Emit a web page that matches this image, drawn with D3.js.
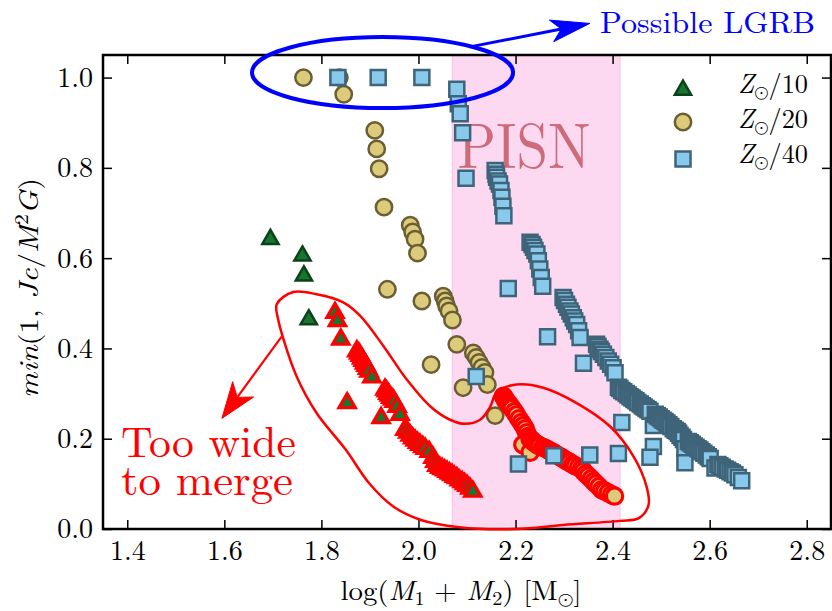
<!DOCTYPE html>
<html><head><meta charset="utf-8">
<script src="https://cdn.jsdelivr.net/npm/d3@7"></script>
<style>body{margin:0;background:#fff}svg{display:block}text{font-family:"Latin Modern Roman","Latin Modern Math","DejaVu Serif",serif}</style>
</head><body>
<script>
// ---------- data ----------
const xTicks = [1.4,1.6,1.8,2.0,2.2,2.4,2.6,2.8];
const xTickLabels = ["1.4","1.6","1.8","2.0","2.2","2.4","2.6","2.8"];
const yTicks = [0.0,0.2,0.4,0.6,0.8,1.0];
const yTickLabels = ["0.0","0.2","0.4","0.6","0.8","1.0"];
const pisnRange = [2.07, 2.415];

// Z_sun/10 (triangles)
const triZ10 = [[1.695,0.642],[1.761,0.605],[1.764,0.561],[1.774,0.464]];
const triZ10Wide = [
 [1.828,0.479],[1.833,0.461],[1.840,0.420],
 [1.873,0.394],[1.877,0.389],[1.880,0.384],[1.883,0.378],[1.886,0.373],[1.889,0.367],[1.892,0.362],[1.895,0.355],[1.898,0.349],[1.904,0.336],
 [1.853,0.279],[1.923,0.246],
 [1.931,0.309],[1.934,0.305],[1.937,0.300],[1.940,0.296],[1.943,0.291],[1.947,0.287],[1.950,0.282],[1.956,0.271],[1.962,0.253],
 [1.972,0.220],[1.978,0.214],[1.983,0.207],[1.988,0.201],[1.993,0.196],[1.998,0.191],[2.003,0.187],[2.009,0.182],[2.014,0.178],[2.022,0.171],
 [2.030,0.158],[2.034,0.149],[2.038,0.140],[2.044,0.136],[2.049,0.133],[2.054,0.130],[2.059,0.127],[2.064,0.123],[2.069,0.120],[2.074,0.116],[2.079,0.113],
 [2.084,0.108],[2.090,0.104],[2.095,0.100],[2.100,0.096],[2.106,0.090],[2.112,0.083]];
// Z_sun/20 (circles)
const circZ20 = [
 [1.763,1.000],[1.837,1.000],[1.846,0.963],[1.910,0.883],[1.914,0.842],[1.919,0.798],
 [1.929,0.713],[1.983,0.673],[1.988,0.658],[1.993,0.642],[1.998,0.611],[1.936,0.531],
 [2.007,0.505],[2.051,0.516],[2.055,0.505],[2.058,0.494],[2.063,0.483],[2.070,0.463],
 [2.079,0.409],[2.026,0.364],[2.113,0.390],[2.119,0.380],[2.125,0.369],[2.131,0.358],
 [2.137,0.347],[2.142,0.320],[2.092,0.313],[2.158,0.251]];
const circZ20Wide = [
 [2.175,0.294],[2.178,0.289],[2.180,0.284],[2.184,0.280],[2.187,0.276],[2.190,0.271],[2.193,0.267],[2.198,0.260],[2.202,0.253],[2.207,0.244],
 [2.212,0.236],[2.216,0.229],[2.220,0.222],[2.223,0.213],[2.226,0.205],[2.215,0.187],[2.230,0.170],[2.230,0.200],[2.234,0.196],
 [2.238,0.192],[2.242,0.189],[2.246,0.186],[2.250,0.184],[2.256,0.181],[2.261,0.179],[2.266,0.176],[2.271,0.173],[2.276,0.170],[2.281,0.167],[2.287,0.163],[2.292,0.160],
 [2.297,0.157],[2.302,0.153],[2.307,0.150],[2.312,0.147],[2.318,0.143],[2.323,0.140],[2.330,0.137],[2.336,0.133],[2.340,0.128],[2.345,0.122],[2.350,0.117],[2.356,0.111],
 [2.361,0.105],[2.366,0.100],[2.372,0.094],[2.378,0.087],[2.384,0.084],[2.391,0.080],[2.398,0.076],[2.404,0.073]];
// Z_sun/40 (squares)
const sqZ40 = [
 [1.834,1.000],[1.917,1.000],[2.007,1.000],
 [2.079,0.974],[2.082,0.942],[2.086,0.920],[2.091,0.878],[2.098,0.777],
 [2.158,0.794],[2.160,0.786],[2.161,0.779],[2.164,0.771],[2.167,0.764],[2.170,0.750],[2.172,0.735],[2.174,0.715],[2.176,0.694],
 [2.230,0.635],[2.234,0.630],[2.237,0.624],[2.240,0.617],[2.244,0.609],[2.247,0.594],[2.250,0.576],[2.253,0.557],[2.256,0.538],
 [2.185,0.533],
 [2.298,0.513],[2.301,0.506],[2.305,0.498],[2.308,0.491],[2.312,0.483],[2.315,0.476],[2.319,0.468],[2.322,0.461],[2.326,0.453],[2.330,0.439],[2.333,0.424],
 [2.266,0.426],[2.340,0.367],[2.119,0.338],
 [2.367,0.409],[2.370,0.404],[2.374,0.398],[2.377,0.393],[2.381,0.387],[2.386,0.380],[2.391,0.372],[2.396,0.365],[2.401,0.357],[2.405,0.346],[2.412,0.314],
 [2.415,0.311],[2.419,0.307],[2.423,0.304],[2.428,0.300],[2.432,0.297],[2.436,0.293],[2.440,0.290],[2.444,0.287],[2.448,0.284],[2.452,0.280],[2.457,0.277],[2.461,0.273],[2.465,0.270],[2.469,0.267],[2.473,0.264],[2.477,0.261],
 [2.419,0.236],[2.484,0.229],
 [2.488,0.254],[2.492,0.251],[2.496,0.248],[2.500,0.244],[2.504,0.241],[2.508,0.238],[2.512,0.235],[2.516,0.231],[2.520,0.227],[2.525,0.222],[2.529,0.219],[2.533,0.216],[2.536,0.212],[2.539,0.207],[2.543,0.203],[2.546,0.198],
 [2.484,0.183],[2.477,0.159],[2.549,0.178],[2.549,0.147],
 [2.556,0.194],[2.560,0.191],[2.564,0.188],[2.568,0.184],[2.572,0.181],[2.576,0.178],[2.580,0.175],[2.584,0.171],[2.588,0.168],[2.593,0.164],[2.597,0.160],[2.601,0.156],[2.611,0.135],
 [2.617,0.143],[2.621,0.140],[2.626,0.137],[2.632,0.133],[2.637,0.130],[2.642,0.127],[2.647,0.124],[2.652,0.120],[2.659,0.114],[2.666,0.107],
 [2.206,0.144],[2.279,0.162],[2.353,0.164],[2.412,0.167]];

// annotation geometry (data units)
const lgrbEllipse = {cx:1.926, cy:1.011, rx:0.269, ry:0.0786};
const lgrbArrow = [[2.106,1.068],[2.353,1.120]];
const wideArrow = [[1.718,0.426],[1.595,0.245]];
const wideLoop = [
 [1.708,0.498],[1.742,0.525],[1.790,0.520],[1.845,0.502],[1.880,0.472],[1.928,0.405],
 [1.976,0.331],[2.024,0.272],[2.065,0.242],[2.096,0.233],[2.127,0.242],[2.147,0.269],
 [2.162,0.304],[2.202,0.320],[2.257,0.313],[2.326,0.279],[2.395,0.227],[2.443,0.161],
 [2.470,0.094],[2.474,0.053],[2.454,0.024],[2.415,0.018],[2.298,0.009],[2.201,0.000],
 [2.084,0.004],[2.005,0.020],[1.948,0.050],[1.898,0.102],[1.850,0.176],[1.790,0.257],
 [1.749,0.338],[1.722,0.420],[1.711,0.464]];

// ---------- drawing ----------
const FONT = '"Latin Modern Roman","Latin Modern Math","DejaVu Serif",serif';
const W = 832, H = 611;
const L = 103, R = 831, T = 55, B = 529;
const svg = d3.select("body").append("svg").attr("width", W).attr("height", H);
const x = d3.scaleLinear().domain([1.35, 2.85]).range([L, R]);
const y = d3.scaleLinear().domain([0, 1.05]).range([B, T]);

const triFill = "#17752f", triStroke = "#0b4219";
const cFill = "#dccb7a", cStroke = "#6b5e34";
const sFill = "#88c9ec", sStroke = "#3f6479";

// PISN band
svg.append("rect").attr("x", x(pisnRange[0])).attr("y", T)
  .attr("width", x(pisnRange[1]) - x(pisnRange[0])).attr("height", B - T)
  .attr("fill", "#fdd9f1").attr("stroke", "#fbc8ea").attr("stroke-width", 1.5);
svg.append("text").attr("x", x(pisnRange[0]) + 5).attr("y", 168)
  .attr("font-size", 64).attr("fill", "#cd6b7b").attr("textLength", 133)
  .attr("lengthAdjust", "spacingAndGlyphs").text("PISN");

const triSym = d3.symbol().type(d3.symbolTriangle).size(115);
const cirSym = d3.symbol().type(d3.symbolCircle).size(210);
const sqSym = d3.symbol().type(d3.symbolSquare).size(225);

const gm = svg.append("g");
function pts(data, sym, fill, stroke, sw) {
  gm.append("g").selectAll("path").data(data).join("path")
    .attr("transform", d => `translate(${x(d[0])},${y(d[1])})`)
    .attr("d", sym).attr("fill", fill).attr("stroke", stroke)
    .attr("stroke-width", sw).attr("stroke-linejoin", "miter");
}
pts(triZ10, triSym, triFill, triStroke, 2.5);
pts(triZ10Wide, triSym, triFill, "#ff0000", 3.2);
pts(circZ20, cirSym, cFill, cStroke, 2.5);
pts(circZ20Wide, cirSym, cFill, "#ff0000", 3.2);
pts(sqZ40, sqSym, sFill, sStroke, 2.5);

// axes (ticks inward on all four sides)
const fmtX = (d, i) => xTickLabels[i];
const fmtY = (d, i) => yTickLabels[i];
const axB = svg.append("g").attr("transform", `translate(0,${B})`)
  .call(d3.axisBottom(x).tickValues(xTicks).tickFormat(fmtX).tickSizeInner(-9).tickSizeOuter(0).tickPadding(11));
const axT = svg.append("g").attr("transform", `translate(0,${T})`)
  .call(d3.axisTop(x).tickValues(xTicks).tickFormat("").tickSizeInner(-9).tickSizeOuter(0));
const axL = svg.append("g").attr("transform", `translate(${L},0)`)
  .call(d3.axisLeft(y).tickValues(yTicks).tickFormat(fmtY).tickSizeInner(-9).tickSizeOuter(0).tickPadding(10));
const axRt = svg.append("g").attr("transform", `translate(${R},0)`)
  .call(d3.axisRight(y).tickValues(yTicks).tickFormat("").tickSizeInner(-9).tickSizeOuter(0));
[axB, axT, axL, axRt].forEach(a => {
  a.attr("font-family", FONT);
  a.select(".domain").remove();
  a.selectAll(".tick line").attr("stroke", "#000").attr("stroke-width", 1.5);
  a.selectAll("text").attr("font-size", 28).attr("fill", "#000");
});
svg.append("rect").attr("x", L).attr("y", T).attr("width", R - L).attr("height", B - T)
  .attr("fill", "none").attr("stroke", "#000").attr("stroke-width", 2.5);

// axis titles
const xl = svg.append("text").attr("x", 461).attr("y", 600).attr("text-anchor", "middle")
  .attr("font-size", 27).attr("textLength", 241).attr("lengthAdjust", "spacingAndGlyphs");
xl.append("tspan").text("log(");
xl.append("tspan").attr("font-style", "italic").text("M");
xl.append("tspan").attr("font-size", 19).attr("dy", 5).text("1");
xl.append("tspan").attr("dy", -5).text(" + ");
xl.append("tspan").attr("font-style", "italic").text("M");
xl.append("tspan").attr("font-size", 19).attr("dy", 5).text("2");
xl.append("tspan").attr("dy", -5).text(") [M");
xl.append("tspan").attr("font-size", 19).attr("dy", 5).text("⊙");
xl.append("tspan").attr("dy", -5).text("]");

const yl = svg.append("text").attr("transform", "translate(38,288) rotate(-90)")
  .attr("text-anchor", "middle").attr("font-size", 27)
  .attr("textLength", 220).attr("lengthAdjust", "spacingAndGlyphs");
yl.append("tspan").attr("font-style", "italic").text("min");
yl.append("tspan").text("(1, ");
yl.append("tspan").attr("font-style", "italic").text("Jc");
yl.append("tspan").text("/");
yl.append("tspan").attr("font-style", "italic").text("M");
yl.append("tspan").attr("font-size", 19).attr("dy", -10).text("2");
yl.append("tspan").attr("dy", 10).attr("font-style", "italic").text("G");
yl.append("tspan").text(")");

// legend
const legend = [
  {sym: triSym, fill: triFill, stroke: triStroke, lab: "/10", cy: 90, ty: 93},
  {sym: cirSym, fill: cFill, stroke: cStroke, lab: "/20", cy: 122, ty: 128},
  {sym: sqSym, fill: sFill, stroke: sStroke, lab: "/40", cy: 159, ty: 163}];
legend.forEach(l => {
  svg.append("path").attr("transform", `translate(683,${l.cy})`).attr("d", l.sym)
    .attr("fill", l.fill).attr("stroke", l.stroke).attr("stroke-width", 2.5);
  const t = svg.append("text").attr("x", 738).attr("y", l.ty).attr("font-size", 27)
    .attr("textLength", 70).attr("lengthAdjust", "spacingAndGlyphs");
  t.append("tspan").attr("font-style", "italic").text("Z");
  t.append("tspan").attr("font-size", 19).attr("dy", 5).text("⊙");
  t.append("tspan").attr("dy", -5).text(l.lab);
});

// annotations
function arrow(p0, p1, color, lw, hl, hw, notch) {
  const x0 = x(p0[0]), y0 = y(p0[1]), x1 = x(p1[0]), y1 = y(p1[1]);
  const len = Math.hypot(x1 - x0, y1 - y0), ux = (x1 - x0) / len, uy = (y1 - y0) / len;
  const px = -uy, py = ux;
  const bx = x1 - ux * hl, by = y1 - uy * hl;
  const nx = x1 - ux * notch, ny = y1 - uy * notch;
  svg.append("line").attr("x1", x0).attr("y1", y0).attr("x2", nx).attr("y2", ny)
    .attr("stroke", color).attr("stroke-width", lw);
  svg.append("path").attr("d", d3.line()([[x1, y1], [bx + px * hw, by + py * hw], [nx, ny], [bx - px * hw, by - py * hw]]) + "Z")
    .attr("fill", color).attr("stroke", color).attr("stroke-width", 1);
}
svg.append("ellipse").attr("cx", x(lgrbEllipse.cx)).attr("cy", y(lgrbEllipse.cy))
  .attr("rx", x(lgrbEllipse.cx + lgrbEllipse.rx) - x(lgrbEllipse.cx))
  .attr("ry", y(lgrbEllipse.cy - lgrbEllipse.ry) - y(lgrbEllipse.cy))
  .attr("fill", "none").attr("stroke", "#0000ff").attr("stroke-width", 4);
arrow(lgrbArrow[0], lgrbArrow[1], "#0000ff", 3, 39, 11, 29);
svg.append("text").attr("x", 600).attr("y", 33).attr("font-size", 30).attr("fill", "#0000ff")
  .attr("textLength", 215).attr("lengthAdjust", "spacingAndGlyphs").text("Possible LGRB");

svg.append("path").datum(wideLoop)
  .attr("d", d3.line().x(d => x(d[0])).y(d => y(d[1])).curve(d3.curveCatmullRomClosed.alpha(0.5)))
  .attr("fill", "none").attr("stroke", "#ff0000").attr("stroke-width", 2.5);
arrow(wideArrow[0], wideArrow[1], "#ff0000", 2.2, 36, 13, 26);
svg.append("text").attr("x", 121).attr("y", 457).attr("font-size", 44).attr("fill", "#ff0000")
  .attr("textLength", 175).attr("lengthAdjust", "spacingAndGlyphs").text("Too wide");
svg.append("text").attr("x", 121).attr("y", 495).attr("font-size", 44).attr("fill", "#ff0000")
  .attr("textLength", 172).attr("lengthAdjust", "spacingAndGlyphs").text("to merge");
</script>
</body></html>
